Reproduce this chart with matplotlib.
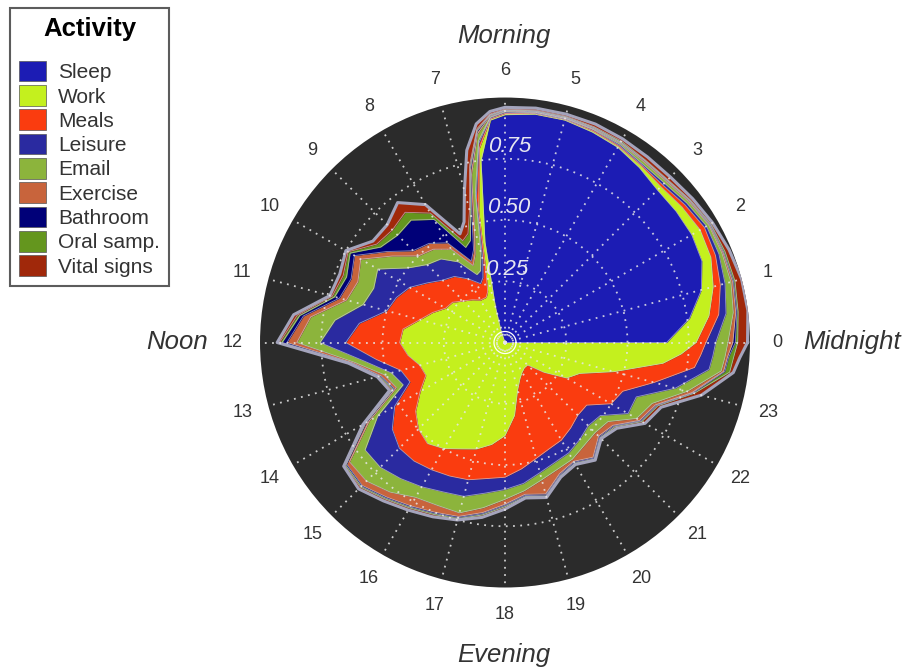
import numpy as np
import matplotlib.pyplot as plt
from matplotlib.patches import Patch

plt.rcParams['font.family'] = ['Liberation Sans', 'DejaVu Sans']

# ── Data (share of patients per activity) ────────────────────────────────────

hours = [0, 0.5, 1, 1.5, 2, 2.5, 3, 3.5, 4, 4.5, 5, 5.5, 6, 6.25, 6.5, 6.75,
         7, 7.25, 7.5, 8, 8.5, 9, 9.5, 10, 10.5, 11, 11.5, 12, 12.5, 13, 13.5,
         14, 14.5, 15, 15.5, 16, 16.5, 17, 17.5, 18, 18.5, 19, 19.5, 20, 20.5,
         21, 21.5, 22, 22.5, 23, 23.5, 23.75]

sleep = [.66, .76, .83, .87, .88, .88, .88, .90, .92, .93, .94, .94, .93, .91, .75, .42,
         .15, .05, 0, 0, 0, 0, 0, 0, 0, 0, 0, 0, 0, 0, 0,
         0, 0, 0, 0, 0, 0, 0, 0, 0, 0, 0, 0, 0, 0,
         0, 0, 0, 0, 0, 0, 0]
work = [.12, .08, .05, .04, .04, .03, .02, .01, .005, .005, .003, .003, .005, .005, .05, .13,
        .15, .17, .20, .20, .22, .24, .27, .28, .32, .36, .42, .43, .40, .36, .35,
        .40, .46, .50, .52, .50, .47, .45, .42, .38, .30, .20, .16, .14, .13,
        .13, .20, .29, .33, .46, .65, .72]
meals = [.04, .04, .03, .02, .02, .015, .01, .005, .005, .005, .003, .003, .005, .005, .02, .05,
         .05, .06, .06, .10, .12, .12, .13, .17, .16, .14, .18, .22, .13, .08, .07,
         .12, .12, .11, .09, .10, .12, .13, .14, .17, .22, .29, .31, .32, .31,
         .29, .22, .21, .19, .17, .13, .08]
leisure = [.04, .03, .02, .015, .01, .01, .01, .005, .005, .002, .002, .002, .003, .003, .01, .02,
           .03, .03, .04, .08, .09, .09, .10, .15, .10, .10, .10, .105, .05, .04, .03,
           .08, .14, .11, .09, .08, .07, .07, .06, .05, .06, .06, .06, .06, .06,
           .06, .07, .08, .06, .09, .06, .05]
email = [.05, .03, .025, .013, .01, .01, .01, .01, .005, .003, .002, .002, .003, .004, .03, .08,
         .10, .07, .04, .06, .05, .05, .08, .08, .07, .07, .10, .095, .04, .03, .03,
         .04, .08, .08, .07, .05, .06, .07, .06, .04, .03, .03, .03, .03, .03,
         .04, .04, .04, .07, .05, .05, .05]
exercise = [.02, .01, .007, .005, .004, .005, .005, .005, .003, .003, .002, .002, .002, .003, .01, .02,
            .04, .02, .02, .03, .03, .03, .03, .03, .03, .03, .03, .04, .01, .015, .01,
            .015, .015, .025, .025, .04, .03, .015, .02, .02, .015, .06, .02, .01, .06,
            .02, .025, .015, .015, .02, .01, .01]
bathroom = [.01, .005, .004, .003, .003, .002, .002, .002, .002, .002, .002, .002, .002, .002, .005, .01,
            .02, .04, .06, .11, .12, .09, .03, .02, .02, .02, .015, .02, .005, .005, .005,
            .005, .005, .005, .005, .005, .005, .005, .005, .005, .005, .005, .005, .005, .005,
            .005, .005, .005, .005, .005, .005, .005]
oral_samp = [.01, .005, .006, .006, .003, .003, .003, .003, .005, .003, .003, .003, .003, .003, .005, .01,
             .02, .03, .03, .03, .04, .03, .02, .01, .015, .01, .01, .01, .005, .005, .005,
             .005, .005, .005, .005, .005, .005, .005, .005, .005, .005, .005, .005, .005, .005,
             .005, .005, .005, .005, .005, .02, .02]
vital_signs = [.04, .04, .028, .018, .008, .01, .015, .015, .01, .012, .008, .008, .007, .01, .02, .06,
               .08, .05, .03, .04, .05, .03, .02, .01, .015, .01, .015, .01, .005, .005, .01,
               .005, .005, .01, .01, .01, .01, .005, .01, .01, .005, .005, .005, .005, .005,
               .005, .01, .015, .015, .03, .015, .025]

activities = ["Sleep", "Work", "Meals", "Leisure", "Email", "Exercise",
              "Bathroom", "Oral samp.", "Vital signs"]
colors = ["#1c1cb4", "#c4f01e", "#fa3c0f", "#2a2aa0", "#8cb43c", "#c8643c",
          "#000078", "#64961e", "#a0280a"]
hour_labels = [str(h) for h in range(24)]
r_ticks = [0.25, 0.50, 0.75]

series = [sleep, work, meals, leisure, email, exercise, bathroom, oral_samp, vital_signs]

# close the loop at 24 h with the midnight values
theta = np.deg2rad(np.append(hours, 24.0) * 15)
stack = np.cumsum([np.append(s, s[0]) for s in series], axis=0)

# ── Figure ───────────────────────────────────────────────────────────────────

fig = plt.figure(figsize=(9.06, 6.68), dpi=100)
ax = fig.add_axes([0.287, 0.1205, 0.5408, 0.7335], projection="polar")
ax.set_facecolor("#2b2b2b")

lower = np.zeros_like(theta)
for color, upper in zip(colors, stack):
    ax.fill_between(theta, lower, upper, color=color, lw=0, zorder=1)
    ax.plot(theta, upper, color="#c8c8d8", lw=0.6, alpha=0.7, zorder=1.5)
    lower = upper
ax.plot(theta, stack[-1], color="#a4a4bc", lw=2.2, zorder=1.6)

ax.set_ylim(0, 1)
ax.set_xticks(np.deg2rad(np.arange(0, 360, 15)))
ax.set_xticklabels(hour_labels)
ax.set_yticks(r_ticks)
ax.set_yticklabels([])
ax.set_axisbelow(False)
ax.grid(True, color="#e8e8e8", linestyle=(0, (1, 3)), linewidth=1.3, alpha=0.85)
ax.tick_params(axis="x", pad=9, labelsize=13, labelcolor="#333333")
ax.spines["polar"].set_visible(False)

for v in r_ticks:
    ax.text(np.deg2rad(88.5), v + 0.05, f"{v:.2f}", ha="center", va="center",
            style="italic", color="#e6e6f0", fontsize=16, zorder=5)

circ = np.linspace(0, 2 * np.pi, 100)
ax.plot(circ, np.full_like(circ, 0.045), color="white", lw=0.9, zorder=4)

side = dict(ha="center", va="center", style="italic", fontsize=18.5, color="#333333")
fig.text(504 / 906, 1 - 36 / 668, "Morning", **side)
fig.text(852 / 906, 1 - 342 / 668, "Midnight", **side)
fig.text(177 / 906, 1 - 342 / 668, "Noon", **side)
fig.text(504 / 906, 1 - 655 / 668, "Evening", **side)

handles = [Patch(facecolor=c, edgecolor="#555555", lw=0.5) for c in colors]
leg = fig.legend(handles, activities, loc="upper left",
                 bbox_to_anchor=(10 / 906, 1 - 8 / 668), title="Activity",
                 fontsize=15, title_fontproperties={"weight": "bold", "size": 18.5},
                 frameon=True, fancybox=False, edgecolor="#333333",
                 handlelength=1.3, handleheight=1.15, handletextpad=0.55,
                 labelspacing=0.14, borderpad=0.45, borderaxespad=0)
leg.get_frame().set_linewidth(1.5)
leg._legend_box.sep = 14
for t in leg.get_texts():
    t.set_color("#333333")

fig.savefig("out.png", dpi=100)
